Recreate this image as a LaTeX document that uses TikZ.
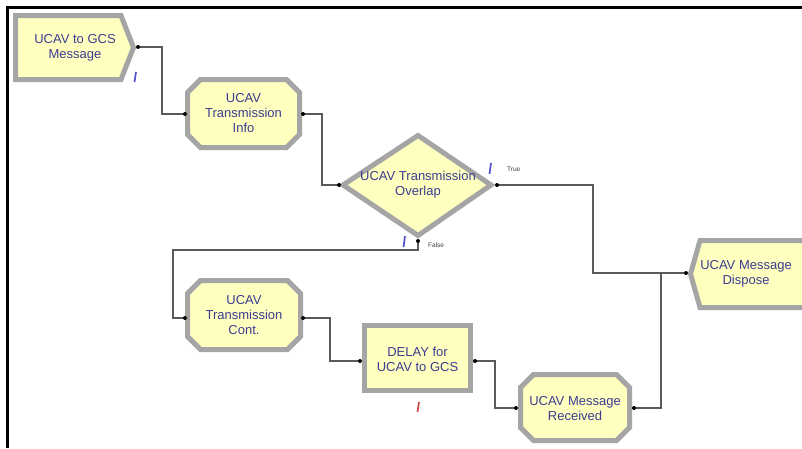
\documentclass[tikz,border=0pt]{standalone}
\usepackage{fontspec}
\setmainfont{Liberation Sans}
\begin{document}
\begin{tikzpicture}[x=1pt,y=-1pt,
  modshape/.style={draw=shapegray,line width=5pt,fill=modfill,line join=miter},
  modtext/.style={text=modtext,font=\fontsize{13}{15}\selectfont,align=center,inner sep=0pt},
  conn/.style={draw=conngray,line width=1.2pt},
  portdot/.style={fill=black,circle,inner sep=0pt,minimum size=4pt},
  animark/.style={draw=markblue,line width=1.7pt},
  branchlbl/.style={text=black!75,font=\fontsize{6.5}{7}\selectfont,inner sep=0pt}]
\definecolor{shapegray}{RGB}{165,165,165}
\definecolor{modfill}{RGB}{255,255,192}
\definecolor{modtext}{RGB}{60,60,145}
\definecolor{conngray}{RGB}{90,90,90}
\definecolor{markblue}{RGB}{80,80,200}
\definecolor{markred}{RGB}{200,70,70}
\useasboundingbox (0,0) rectangle (802,448);
\fill[white] (0,0) rectangle (802,448);
% frame
\draw[black,line width=2.5pt] (7.5,448) -- (7.5,7.5) -- (802,7.5);

% Create
\draw[modshape] (15.5,15.5) -- (121,15.5) -- (133.5,47.5) -- (121,79.5) -- (15.5,79.5) -- cycle;
\node[modtext] (create) at (75,48) {UCAV to GCS\\Message};
\coordinate (createout) at (138,47);

% Process 1
\draw[modshape] (200.5,79.5) -- (286.5,79.5) -- (299.5,92.5) -- (299.5,134.5) -- (286.5,147.5) -- (200.5,147.5) -- (187.5,134.5) -- (187.5,92.5) -- cycle;
\node[modtext] (info) at (243.5,113.5) {UCAV\\Transmission\\Info};
\coordinate (infoin) at (185,114);
\coordinate (infoout) at (303,114);

% Decide
\draw[modshape] (343,185) -- (418,135.5) -- (491,185) -- (418,235.5) -- cycle;
\node[modtext] (decide) at (418,185) {UCAV Transmission\\Overlap};
\coordinate (decin) at (339,185);
\coordinate (dectrue) at (497,185);
\coordinate (decfalse) at (418,241);

% Process 2
\draw[modshape] (200.5,280.5) -- (287.5,280.5) -- (300.5,293.5) -- (300.5,336.5) -- (287.5,349.5) -- (200.5,349.5) -- (187.5,336.5) -- (187.5,293.5) -- cycle;
\node[modtext] (cont) at (244,315.5) {UCAV\\Transmission\\Cont.};
\coordinate (contin) at (185,318);
\coordinate (contout) at (303,318);

% Delay
\draw[modshape] (364.5,325.5) rectangle (470.5,390.5);
\node[modtext] (delay) at (417.5,359) {DELAY for\\UCAV to GCS};
\coordinate (delayin) at (360,361);
\coordinate (delayout) at (475,361);

% Process 3
\draw[modshape] (533.5,374.5) -- (616.5,374.5) -- (629.5,387.5) -- (629.5,427.5) -- (616.5,440.5) -- (533.5,440.5) -- (520.5,427.5) -- (520.5,387.5) -- cycle;
\node[modtext] (recv) at (575,409) {UCAV Message\\Received};
\coordinate (recvin) at (516,408);
\coordinate (recvout) at (634,408);

% Dispose
\draw[modshape] (690.5,274) -- (700,240.5) -- (812,240.5) -- (812,307.5) -- (700,307.5) -- cycle;
\node[modtext] (dispose) at (746,274) {UCAV Message\\Dispose};
\coordinate (dispin) at (686,273);

% connectors
\draw[conn] (createout) -| (162,114) -- (infoin);
\draw[conn] (infoout) -| (322,185) -- (decin);
\draw[conn] (dectrue) -| (593,273) -- (dispin);
\draw[conn] (decfalse) -- (418,250) -| (173,318) -- (contin);
\draw[conn] (contout) -| (330,361) -- (delayin);
\draw[conn] (delayout) -| (495,408) -- (recvin);
\draw[conn] (recvout) -| (661,273);

% port dots
\foreach \p in {createout,infoin,infoout,decin,dectrue,decfalse,contin,contout,delayin,delayout,recvin,recvout,dispin}
  \node[portdot] at (\p) {};

% animation markers
\draw[animark] (134.5,82) -- (136,72);
\draw[animark] (489.5,174) -- (491,163);
\draw[animark] (403.5,247) -- (405,236);
\draw[animark,draw=markred] (417.5,412) -- (419,402);

% branch labels
\node[branchlbl,anchor=west] (truelbl) at (507,169) {True};
\node[branchlbl,anchor=west] (falselbl) at (428,245) {False};
\end{tikzpicture}
\end{document}
